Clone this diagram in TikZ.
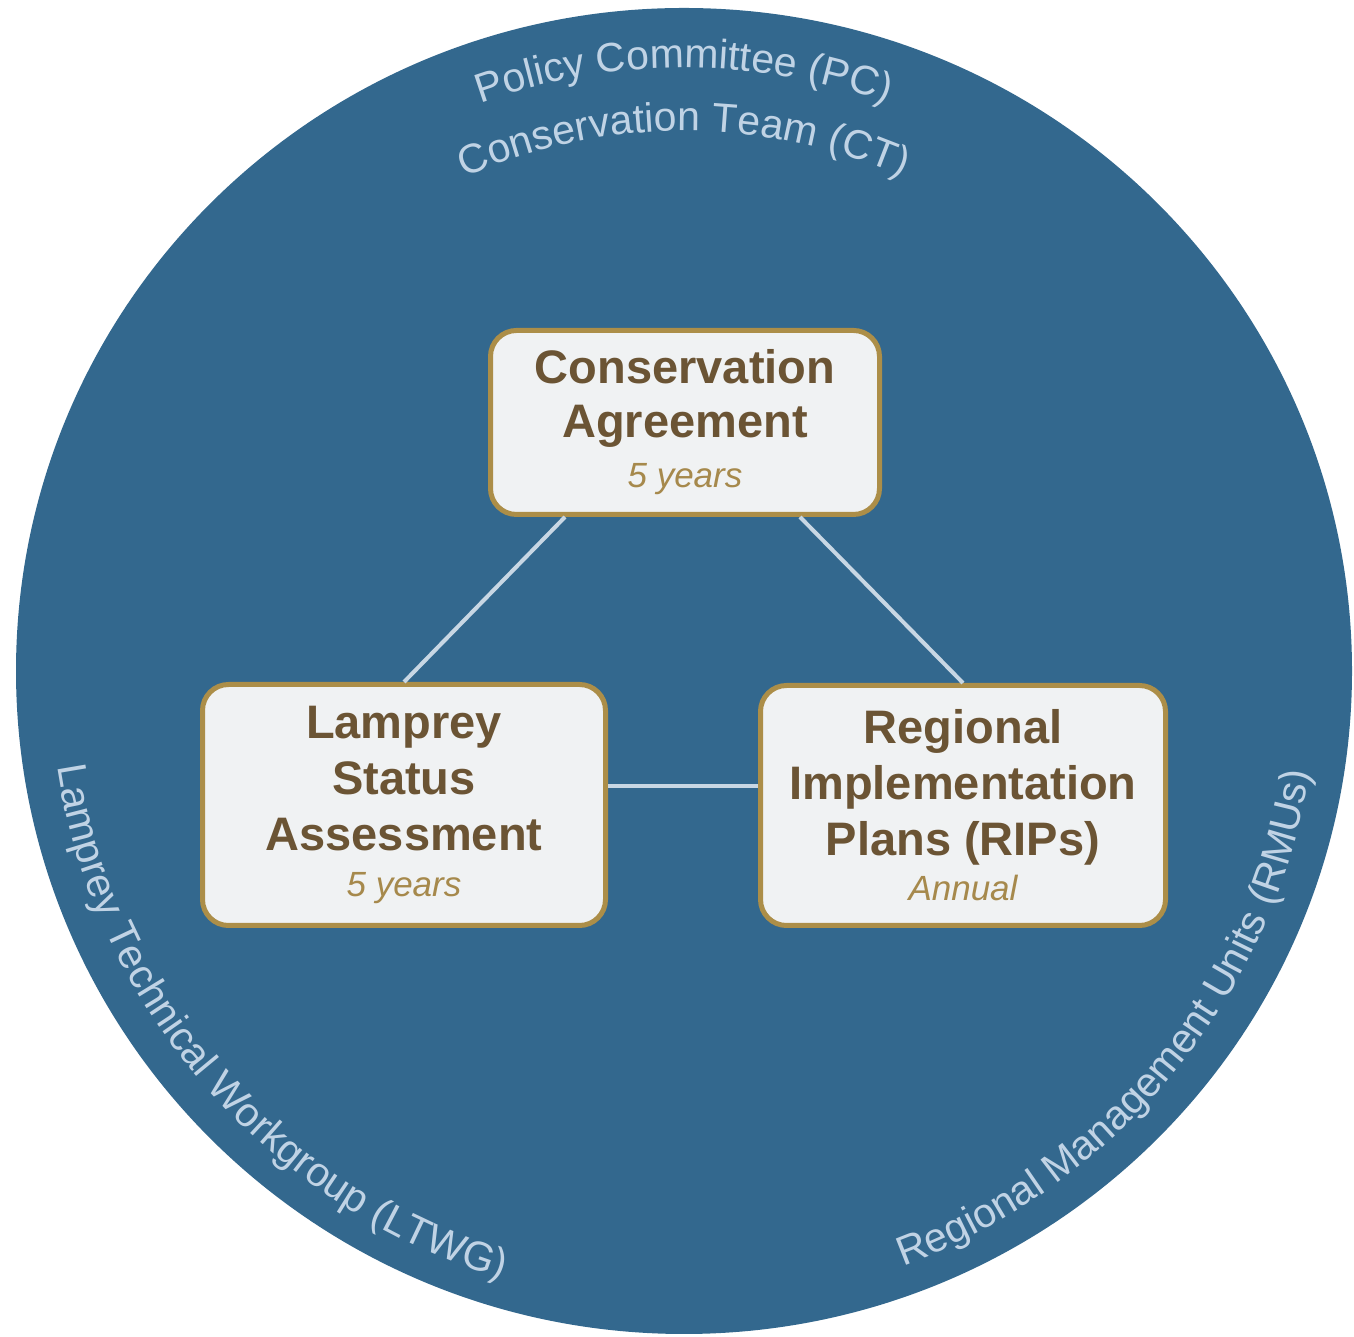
\documentclass[tikz,border=0pt]{standalone}
\usepackage{fontspec}
\newfontfamily\arialf{Liberation Sans}
\usetikzlibrary{decorations.text,calc}
\definecolor{circfill}{RGB}{51,104,142}
\definecolor{ringtext}{RGB}{192,211,229}
\definecolor{boxfill}{RGB}{240,242,243}
\definecolor{boxedge}{RGB}{172,142,72}
\definecolor{titlebrown}{RGB}{107,84,52}
\definecolor{periodgold}{RGB}{166,137,76}
\definecolor{linkcol}{RGB}{200,215,228}
\newcommand{\periodtext}[1]{{\fontsize{35}{40}\selectfont\mdseries\itshape\color{periodgold}#1}}
\newcommand{\ringfonttop}{\arialf\fontsize{41}{49}\selectfont}
\newcommand{\ringfontlow}{\arialf\fontsize{41}{49}\selectfont}
\begin{document}
\begin{tikzpicture}[x=1pt,y=1pt,
  procbox/.style={draw=boxedge, line width=5pt, fill=boxfill, rounded corners=26pt,
    align=center, text=titlebrown, inner sep=0pt},
  link/.style={draw=linkcol, line width=4pt},
  ringlabel/.style={decorate, decoration={text along path, text align=center, text color=ringtext}}]
\useasboundingbox (0,0) rectangle (1354,1337);
\coordinate (C) at (684,666);
\fill[circfill] (C) ellipse[x radius=668, y radius=663];

% ring labels
\path[ringlabel, decoration={text={|\ringfonttop|Policy Committee (PC)}}]
  ($(C)+(130:603)$) arc[start angle=130, end angle=50, radius=603];
\path[ringlabel, decoration={text={|\ringfonttop|Conservation Team (CT)}}]
  ($(C)+(135:540)$) arc[start angle=135, end angle=45, radius=540];
\path[ringlabel, decoration={text={|\ringfontlow|Lamprey Technical Workgroup (LTWG)}}]
  ($(C)+(176:634)$) arc[start angle=176, end angle=266, radius=634];
\path[ringlabel, decoration={text={|\ringfontlow|Regional Management Units (RMUs)}}]
  ($(C)+(275.5:634)$) arc[start angle=275.5, end angle=365.5, radius=634];

% boxes
\node[procbox, minimum width=389pt, minimum height=184pt,
  font=\arialf\bfseries\fontsize{47}{54}\selectfont] (ca) at (685,914.5)
  {Conservation\\Agreement\\[-4pt]\periodtext{5 years}};
\node[procbox, minimum width=403pt, minimum height=241pt,
  font=\arialf\bfseries\fontsize{47}{56}\selectfont] (lsa) at (404,532)
  {Lamprey\\Status\\Assessment\\[-10pt]\periodtext{5 years}};
\node[procbox, minimum width=405pt, minimum height=240pt,
  font=\arialf\bfseries\fontsize{47}{56}\selectfont] (rip) at (963,531.5)
  {Regional\\Implementation\\Plans (RIPs)\\[-11pt]\periodtext{Annual}};

% connectors
\draw[link] ([xshift=-120pt]ca.south) -- (lsa.north);
\draw[link] ([xshift=115pt]ca.south) -- (rip.north);
\draw[link] ($(lsa.east)+(0,19)$) -- ($(lsa.east -| rip.west)+(0,19)$);
\end{tikzpicture}
\end{document}
